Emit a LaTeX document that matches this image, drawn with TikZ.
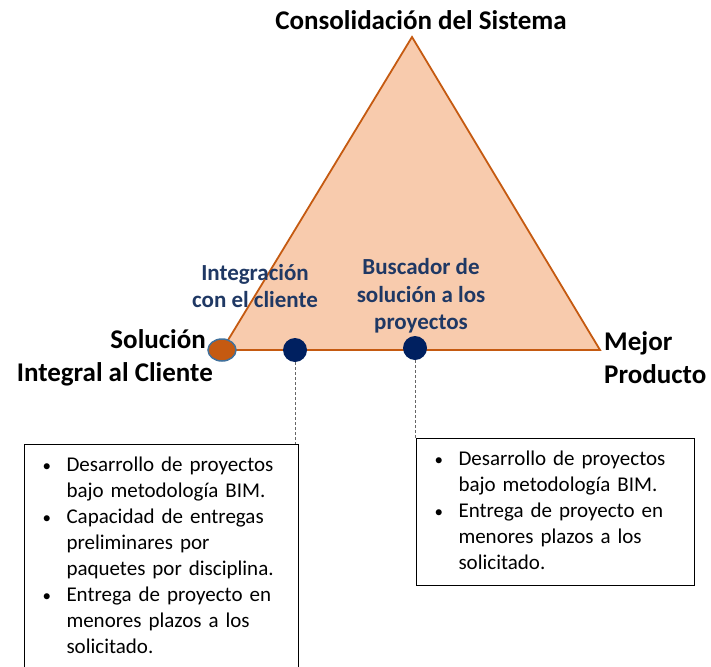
\documentclass[tikz,border=0pt]{standalone}
\usepackage{fontspec}
\setmainfont{Carlito}
\usepackage{xcolor}
\usetikzlibrary{positioning}
\usetikzlibrary{shapes.geometric}
\definecolor{triorange}{HTML}{C55A11}
\definecolor{tripeach}{HTML}{F8CBAD}
\definecolor{navyblue}{HTML}{002060}
\definecolor{navytext}{HTML}{1F3864}
\definecolor{dotedge}{HTML}{41719C}
\newcommand{\boxbullet}{{\fontsize{17}{17}\selectfont\textbullet}}
\tikzset{
  cornerlabel/.style={font=\fontsize{27}{33}\selectfont\bfseries, inner sep=0pt},
  midlabel/.style={font=\fontsize{23}{27.5}\selectfont\bfseries, text=navytext, align=center, inner sep=0pt},
  navydot/.style={circle, fill=navyblue, minimum size=24pt, inner sep=0pt},
  soldot/.style={ellipse, fill=triorange, draw=dotedge, line width=1.5pt, minimum width=28pt, minimum height=22pt, inner sep=0pt},
  infobox/.style={draw=black, line width=1pt, anchor=north west, inner xsep=18pt, inner ysep=8.5pt, font=\fontsize{21}{26}\selectfont},
  guide/.style={densely dashed, draw=black!60, line width=0.8pt}
}

\begin{document}
\begin{tikzpicture}[x=1pt,y=-1pt]
        \newcommand{\trilinebase}{350}
        \newcommand{\trileftx}{222}
        \newcommand{\trirightx}{600}
        \newcommand{\triapexx}{412}
        \newcommand{\triapexy}{37}
        \useasboundingbox (0,0) rectangle (711,666);
        \coordinate (vleft) at (\trileftx,\trilinebase);
        \coordinate (vright) at (\trirightx,\trilinebase);
        \coordinate (vtop) at (\triapexx,\triapexy);
        \filldraw[fill=tripeach, draw=triorange, line width=1.8pt] (vleft) -- (vtop) -- (vright) -- cycle;
        \node[soldot] (dotsol) at (vleft) {};
        \node[navydot] (dotint) at (295,\trilinebase) {};
        \node[navydot] (dotbus) at (415,348) {};
        \node[cornerlabel, anchor=base] (lbltop) at (421,30) {Consolidación del Sistema};
        \node[cornerlabel, anchor=east, align=right] (lblsol) at (213,358) {Solución\hspace*{7pt}\\Integral al Cliente};
        \node[cornerlabel, anchor=west, align=left] (lblmej) at (604,358) {Mejor\\Producto};
        \node[midlabel] (lblint) at (255,286) {Integración\\con el cliente};
        \node[midlabel] (lblbus) at (421,296) {Buscador de\\solución a los\\proyectos};
        \node[infobox, text width=238pt] (boxint) at (24,444) {%
          \begin{tabular}{@{}p{24pt}@{}l@{}}
          \boxbullet & Desarrollo de proyectos\\
           & bajo metodología BIM.\\
          \boxbullet & Capacidad de entregas\\
           & preliminares por\\
           & paquetes por disciplina.\\
          \boxbullet & Entrega de proyecto en\\
           & menores plazos a los\\
           & solicitado.\\[16pt]
          \end{tabular}};
        \node[infobox, text width=242pt] (boxbus) at (416,438) {%
          \begin{tabular}{@{}p{24pt}@{}l@{}}
          \boxbullet & Desarrollo de proyectos\\
           & bajo metodología BIM.\\
          \boxbullet & Entrega de proyecto en\\
           & menores plazos a los\\
           & solicitado.\\
          \end{tabular}};
        \draw[guide] (dotint.south) -- (boxint.north -| dotint);
        \draw[guide] (dotbus.south) -- (boxbus.north -| dotbus);
\end{tikzpicture}
\end{document}
